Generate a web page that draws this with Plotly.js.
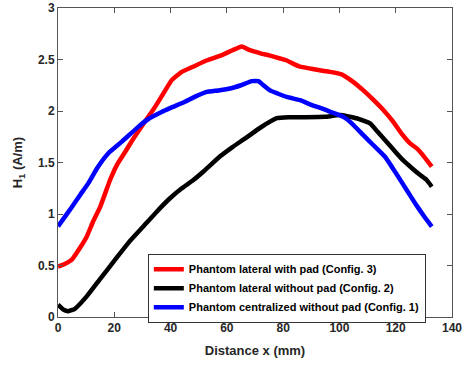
<!DOCTYPE html>
<html><head><meta charset="utf-8">
<script src="https://cdn.plot.ly/plotly-3.0.1.min.js"></script>
<style>html,body{margin:0;padding:0;background:#fff}#chart{width:465px;height:365px}</style>
</head><body><div id="chart"></div>
<script>
const seriesNames = ["Phantom lateral with pad (Config. 3)", "Phantom lateral without pad (Config. 2)", "Phantom centralized without pad (Config. 1)"];
const redX = [0,2,5,8,10.2,12.5,15,18.5,21,23.8,26.5,29.7,32.5,34.5,37,40.4,43,44,48,52.8,58,62,65.3,68.2,72,75,78.9,81.3,83.5,86,90,93,96.7,100.8,104.5,108.5,112,115.6,119,122.1,125.1,127.5,130,132.8];
const redY = [0.49,0.51,0.56,0.68,0.78,0.93,1.07,1.33,1.48,1.60,1.72,1.85,1.96,2.04,2.15,2.30,2.36,2.38,2.43,2.49,2.54,2.59,2.627,2.59,2.56,2.54,2.51,2.49,2.46,2.43,2.41,2.395,2.38,2.356,2.29,2.20,2.11,2.01,1.90,1.78,1.685,1.637,1.56,1.46];
const blackX = [0,2,3.7,6,10.2,15,20.3,25,30.3,35,39.8,44,48.1,52,57.6,62,66.5,72,77.7,82,88,94.9,100.2,106,110.9,113.5,116.8,120,122.7,126,128.6,131,132.8];
const blackY = [0.12,0.07,0.057,0.08,0.2,0.37,0.556,0.72,0.878,1.02,1.153,1.25,1.33,1.42,1.56,1.65,1.734,1.84,1.93,1.94,1.94,1.943,1.96,1.93,1.88,1.80,1.70,1.60,1.52,1.44,1.38,1.33,1.265];
const blueX = [0,2.5,5,8,10.8,14,17.9,22.6,28.5,32,36.8,40,45.1,48,52.8,57,61.1,65,68.8,71.2,73,75.3,78,81.3,86,90,93.7,97,101.4,104,108.5,112,116.2,120,123.9,127,130,132.8];
const blueY = [0.88,0.975,1.07,1.19,1.30,1.45,1.59,1.70,1.846,1.92,1.99,2.03,2.09,2.13,2.185,2.20,2.218,2.25,2.29,2.29,2.25,2.20,2.17,2.137,2.105,2.06,2.025,1.99,1.943,1.89,1.766,1.67,1.556,1.40,1.233,1.10,0.98,0.878];
const xTicks = [0,20,40,60,80,100,120,140];
const yTicks = [0,0.5,1,1.5,2,2.5,3];

const font = "Liberation Sans, Arial, sans-serif";
const traces = [
  {x: redX, y: redY, name: seriesNames[0], mode: "lines", line: {color: "#ff0000", width: 4.5, shape: "spline", smoothing: 0.4}},
  {x: blackX, y: blackY, name: seriesNames[1], mode: "lines", line: {color: "#000000", width: 4.5, shape: "spline", smoothing: 0.4}},
  {x: blueX, y: blueY, name: seriesNames[2], mode: "lines", line: {color: "#0000ff", width: 4.5, shape: "spline", smoothing: 0.4}}
];
const axisCommon = {
  showline: true, linecolor: "#555", linewidth: 1, mirror: "ticks",
  ticks: "inside", ticklen: 5, tickcolor: "#555", tickwidth: 1,
  showgrid: false, zeroline: false,
  tickfont: {family: font, size: 12, color: "#262626", weight: "bold"}
};
const layout = {
  width: 465, height: 365,
  margin: {l: 58, r: 13, t: 7.5, b: 47.5},
  paper_bgcolor: "#fff", plot_bgcolor: "#fff",
  showlegend: true,
  xaxis: Object.assign({}, axisCommon, {
    range: [0, 140], tickvals: xTicks, ticktext: xTicks.map(String),
    title: {text: "<b>Distance x (mm)</b>", font: {family: font, size: 13, color: "#262626"}, standoff: 11}
  }),
  yaxis: Object.assign({}, axisCommon, {
    range: [0, 3], tickvals: yTicks, ticktext: yTicks.map(String),
    title: {text: "<b>H<sub>1</sub> (A/m)</b>", font: {family: font, size: 13, color: "#262626"}, standoff: 12}
  }),
  legend: {
    x: 0.228, y: 0.205, xanchor: "left", yanchor: "top",
    bgcolor: "#fff", bordercolor: "#333", borderwidth: 1,
    font: {family: font, size: 11, color: "#000", weight: "bold"},
    itemwidth: 30, tracegroupgap: 0
  }
};
Plotly.newPlot("chart", traces, layout, {displayModeBar: false, staticPlot: true});
</script></body></html>
